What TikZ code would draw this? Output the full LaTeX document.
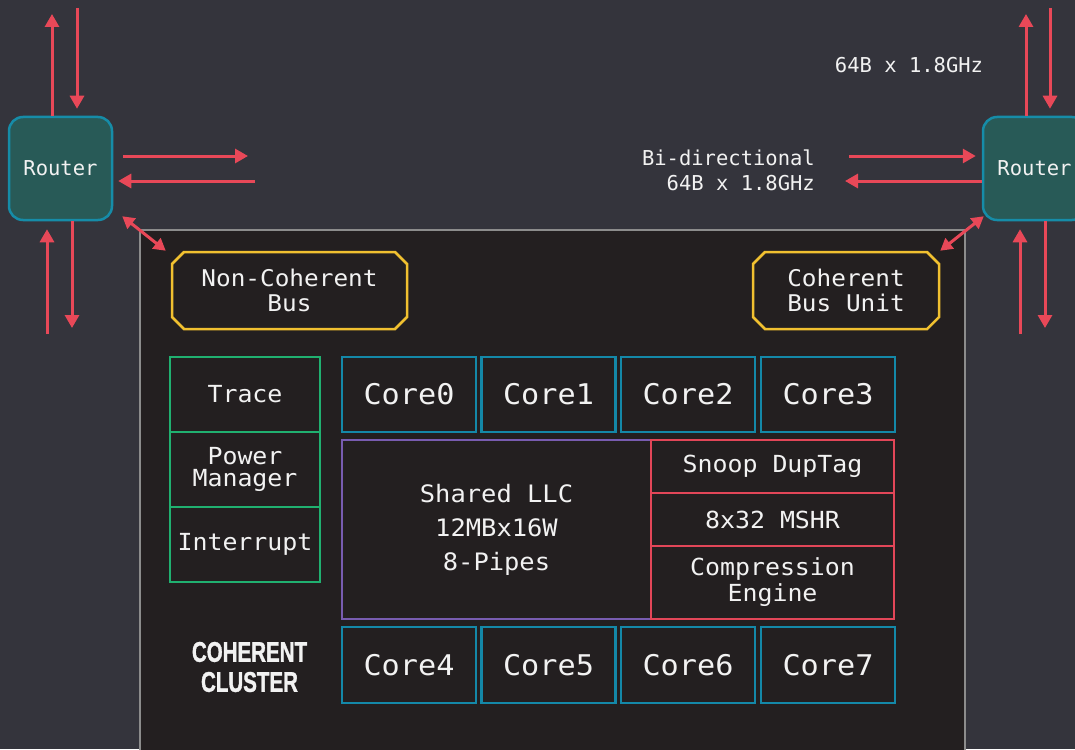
\documentclass[tikz,border=0pt]{standalone}
\usepackage{fontspec}
\usetikzlibrary{arrows.meta,shapes.misc}
\setmonofont{DejaVu Sans Mono}
\newfontfamily\labfont{DejaVu Sans Mono}
\newfontfamily\boxfont[FakeStretch=1.06]{DejaVu Sans Mono}
\newfontfamily\condfont[FakeStretch=0.72, BoldFeatures={FakeBold=1.2}]{Liberation Sans}

\definecolor{bgc}{RGB}{52,52,60}
\definecolor{clusterfill}{RGB}{35,31,32}
\definecolor{clusterline}{RGB}{140,140,140}
\definecolor{arrred}{RGB}{232,72,88}
\definecolor{routerfill}{RGB}{40,90,87}
\definecolor{routerline}{RGB}{22,140,168}
\definecolor{busline}{RGB}{240,192,48}
\definecolor{ctrlgreen}{RGB}{32,176,112}
\definecolor{coreline}{RGB}{20,136,168}
\definecolor{llcline}{RGB}{120,92,176}
\definecolor{redline}{RGB}{226,70,88}
\definecolor{txt}{RGB}{242,242,242}

\tikzset{
  arr/.style={draw=arrred, line width=3pt, -{Triangle[length=13pt,width=14pt]}},
  darr/.style={draw=arrred, line width=3pt,
    {Triangle[length=12pt,width=13pt]}-{Triangle[length=12pt,width=13pt]}},
  lbl/.style={font=\labfont\fontsize{20.5}{25}\selectfont, text=txt, inner sep=0pt},
  router/.style={rectangle, rounded corners=14pt, fill=routerfill, draw=routerline,
    line width=2.5pt, minimum width=103pt, minimum height=103pt, inner sep=0pt,
    font=\labfont\fontsize{20.5}{25}\selectfont, text=txt},
  bus/.style={chamfered rectangle, chamfered rectangle xsep=6pt, chamfered rectangle ysep=6pt,
    draw=busline, line width=2.5pt, fill=clusterfill, minimum height=77pt, inner sep=0pt,
    align=center, font=\boxfont\fontsize{23}{25.7}\selectfont, text=txt},
  blk/.style={rectangle, line width=2.5pt, inner sep=0pt, align=center, text=txt},
  ctrl/.style={blk, draw=ctrlgreen, minimum width=150pt, minimum height=75pt,
    font=\boxfont\fontsize{23.5}{22}\selectfont},
  core/.style={blk, draw=coreline, minimum width=134pt,
    font=\boxfont\fontsize{28.5}{30}\selectfont},
  llc/.style={blk, draw=llcline, minimum width=309pt, minimum height=179pt,
    font=\boxfont\fontsize{24}{34}\selectfont},
  redblk/.style={blk, draw=redline, minimum width=243pt,
    font=\boxfont\fontsize{23.5}{26}\selectfont},
  clusterlbl/.style={font=\condfont\bfseries\fontsize{28.5}{30}\selectfont, text=txt,
    align=center, inner sep=0pt}
}

\begin{document}
\begin{tikzpicture}[x=1pt,y=-1pt]
\useasboundingbox (0,0) rectangle (1075,749);
\clip (0,0) rectangle (1075,749);
\fill[bgc] (0,0) rectangle (1075,749);

% cluster outline
\draw[draw=clusterline, line width=2pt, fill=clusterfill] (140,230) rectangle (965,780);

% routers
\node[router] (rL) at (60.5,168.5) {\raisebox{-2pt}{Router}};
\node[router] (rR) at (1034.5,168.5) {\raisebox{-2pt}{Router}};

% bus units
\node[bus, minimum width=235pt] (ncb) at (289.5,290.5) {Non-Coherent\\Bus};
\node[bus, minimum width=186pt] (cbu) at (846,290.5) {Coherent\\Bus Unit};

% control blocks
\node[ctrl] (trace) at (245,394.5) {Trace};
\node[ctrl] (pm) at (245,469.5) {Power\\Manager};
\node[ctrl] (intr) at (245,544.5) {Interrupt};

% cores
\node[core, minimum height=75pt] (core0) at (409,394.5) {Core0};
\node[core, minimum height=75pt] (core1) at (548.5,394.5) {Core1};
\node[core, minimum height=75pt] (core2) at (688,394.5) {Core2};
\node[core, minimum height=75pt] (core3) at (828,394.5) {Core3};
\node[core, minimum height=76pt] (core4) at (409,665) {Core4};
\node[core, minimum height=76pt] (core5) at (548.5,665) {Core5};
\node[core, minimum height=76pt] (core6) at (688,665) {Core6};
\node[core, minimum height=76pt] (core7) at (828,665) {Core7};

% shared cache and its side units
\node[llc] (llc) at (496.5,529.5) {Shared LLC\\12MBx16W\\8-Pipes};
\node[redblk, minimum height=53pt] (snoop) at (772.5,466.5) {Snoop DupTag};
\node[redblk, minimum height=53pt] (mshr) at (772.5,519.5) {8x32 MSHR};
\node[redblk, minimum height=73pt] (comp) at (772.5,582.5) {Compression\\Engine};

\node[clusterlbl] (cname) at (249.5,667) {COHERENT\\CLUSTER};

% bandwidth labels
\node[lbl, align=right, anchor=east] (bidir) at (815,170.5) {Bi-directional\\64B x 1.8GHz};
\node[lbl] (bw) at (909,65) {64B x 1.8GHz};

% left router links
\coordinate (lUpEnd) at (52,14);
\coordinate (lDnStart) at (77,8);
\coordinate (lUpStart) at (47,334);
\coordinate (lDnEnd) at (72,328);
\coordinate (lRtEnd) at (248,156);
\coordinate (lLtStart) at (255,181);
\draw[arr] (lUpEnd |- rL.north) -- (lUpEnd);
\draw[arr, shorten >=7pt] (lDnStart) -- (lDnStart |- rL.north);
\draw[arr, shorten >=8pt] (lUpStart) -- (lUpStart |- rL.south);
\draw[arr] (lDnEnd |- rL.south) -- (lDnEnd);
\draw[arr, shorten <=10pt] (lRtEnd -| rL.east) -- (lRtEnd);
\draw[arr, shorten >=5pt] (lLtStart) -- (lLtStart -| rL.east);

% right router links
\coordinate (rUpEnd) at (1026,14);
\coordinate (rDnStart) at (1050,8);
\coordinate (rUpStart) at (1020,334);
\coordinate (rDnEnd) at (1045,328);
\coordinate (rRtStart) at (849,156);
\coordinate (rLtEnd) at (845,181);
\draw[arr] (rUpEnd |- rR.north) -- (rUpEnd);
\draw[arr, shorten >=7pt] (rDnStart) -- (rDnStart |- rR.north);
\draw[arr, shorten >=8pt] (rUpStart) -- (rUpStart |- rR.south);
\draw[arr] (rDnEnd |- rR.south) -- (rDnEnd);
\draw[arr, shorten >=6pt] (rRtStart) -- (rRtStart -| rR.west);
\draw[arr] (rLtEnd -| rR.west) -- (rLtEnd);

% router to bus links
\coordinate (ncbCorner) at (ncb.north -| ncb.west);
\coordinate (cbuCorner) at (cbu.north -| cbu.east);
\draw[darr] ([xshift=9pt,yshift=5pt]rL.south east) -- ([xshift=-5pt]ncbCorner);
\draw[darr] ([xshift=2pt,yshift=5pt]rR.south west) -- (cbuCorner);
\end{tikzpicture}
\end{document}
